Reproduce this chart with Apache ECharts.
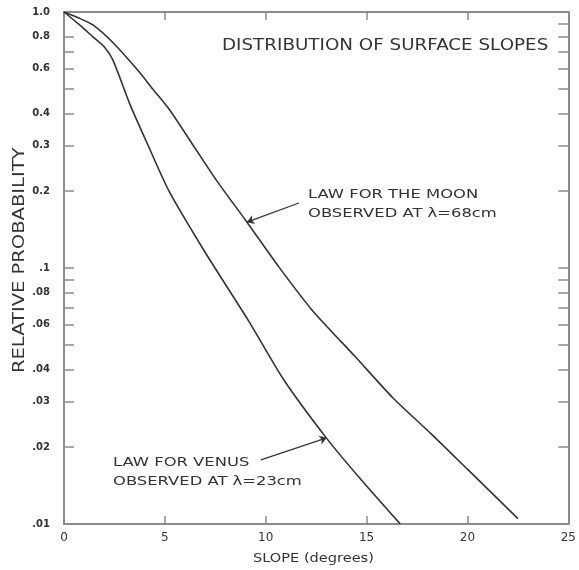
<!DOCTYPE html>
<html>
<head>
<meta charset="utf-8">
<script src="https://cdn.jsdelivr.net/npm/echarts@6/dist/echarts.min.js"></script>
<style>
  html, body { margin: 0; padding: 0; background: #fff; }
  #main { width: 579px; height: 570px; }
</style>
</head>
<body>
<div id="main"></div>
<script>
// 数据：斜率(度) 与 相对概率
var moonSlope = [0, 0.7, 1.43, 2.42, 3.65, 4.4, 5.23, 6.36, 7.54, 9.07, 10.65, 12.29, 14.43, 16.32, 18.2, 20.02, 22.5];
var moonProb  = [1.0, 0.95, 0.89, 0.76, 0.593, 0.5, 0.415, 0.305, 0.221, 0.151, 0.101, 0.0686, 0.0451, 0.031, 0.0225, 0.0163, 0.0105];

var venusSlope = [0, 0.7, 1.43, 2.0, 2.42, 3.3, 4.1, 5.2, 7.0, 9.12, 10.9, 13.0, 14.6, 16.67];
var venusProb  = [1.0, 0.9, 0.8, 0.73, 0.65, 0.43, 0.31, 0.2, 0.115, 0.0627, 0.0365, 0.0217, 0.0153, 0.01];

var xTicks = [0, 5, 10, 15, 20, 25];
var yLabelValues = [1.0, 0.8, 0.6, 0.4, 0.3, 0.2, 0.1, 0.08, 0.06, 0.04, 0.03, 0.02, 0.01];
var yLabelTexts  = ['1.0', '0.8', '0.6', '0.4', '0.3', '0.2', '.1', '.08', '.06', '.04', '.03', '.02', '.01'];
var yTickLeft  = [0.8, 0.7, 0.6, 0.5, 0.4, 0.3, 0.2, 0.1, 0.09, 0.08, 0.07, 0.06, 0.05, 0.04, 0.03, 0.02];
var yTickRight = [0.9, 0.8, 0.7, 0.6, 0.5, 0.4, 0.3, 0.2, 0.1, 0.09, 0.08, 0.07, 0.06, 0.05, 0.04, 0.03, 0.02];

// 箭头 [起点, 终点]
var moonArrow  = [[11.64, 0.1795], [9.07, 0.151]];
var venusArrow = [[9.76, 0.0178], [13.02, 0.0217]];

function pairs(xs, ys) {
    var out = [];
    for (var i = 0; i < xs.length; i++) out.push([xs[i], ys[i]]);
    return out;
}

var chart = echarts.init(document.getElementById('main'));

var frame = '#8c8c8c';
var ink = '#333';
var sans = '"DejaVu Sans"';

var option = {
    backgroundColor: '#fff',
    animation: false,
    grid: { left: 64, right: 7, top: 12, bottom: 46 },
    xAxis: [{
        type: 'value', position: 'bottom', min: 0, max: 25, interval: 5,
        axisLine: { onZero: false, lineStyle: { color: frame, width: 2 } },
        axisTick: { inside: true, length: 8, customValues: [5, 10, 15, 20], lineStyle: { color: frame, width: 1.5 } },
        axisLabel: { customValues: xTicks, color: ink, fontSize: 12, fontFamily: 'DejaVu Sans', margin: 8 },
        splitLine: { show: false }
    }, {
        type: 'value', position: 'top', min: 0, max: 25, interval: 5,
        axisLine: { onZero: false, lineStyle: { color: frame, width: 2 } },
        axisTick: { inside: true, length: 8, customValues: [5, 10, 15, 20], lineStyle: { color: frame, width: 1.5 } },
        axisLabel: { show: false },
        splitLine: { show: false }
    }],
    yAxis: [{
        type: 'log', logBase: 10, min: 0.01, max: 1, position: 'left',
        axisLine: { show: true, onZero: false, lineStyle: { color: frame, width: 2 } },
        axisTick: { show: true, inside: true, length: 10, customValues: yTickLeft, lineStyle: { color: frame, width: 1.5 } },
        axisLabel: {
            customValues: yLabelValues, color: ink, fontSize: 10, fontWeight: 'bold', fontFamily: 'DejaVu Sans', margin: 14,
            formatter: function (v) {
                for (var i = 0; i < yLabelValues.length; i++) {
                    if (Math.abs(yLabelValues[i] - v) < 1e-6) return yLabelTexts[i];
                }
                return '';
            }
        },
        splitLine: { show: false }
    }, {
        type: 'log', logBase: 10, min: 0.01, max: 1, position: 'right',
        axisLine: { show: true, onZero: false, lineStyle: { color: frame, width: 2 } },
        axisTick: { show: true, inside: true, length: 10, customValues: yTickRight, lineStyle: { color: frame, width: 1.5 } },
        axisLabel: { show: false },
        splitLine: { show: false }
    }],
    series: [{
        name: 'Moon', type: 'line', smooth: 0.25, symbol: 'none',
        data: pairs(moonSlope, moonProb),
        lineStyle: { color: ink, width: 1.6 },
        markLine: {
            silent: true, symbolSize: 7,
            lineStyle: { color: ink, width: 1.2, type: 'solid' },
            label: { show: false },
            data: [[{ coord: moonArrow[0], symbol: 'none' }, { coord: moonArrow[1], symbol: 'arrow' }]]
        }
    }, {
        name: 'Venus', type: 'line', smooth: 0.25, symbol: 'none',
        data: pairs(venusSlope, venusProb),
        lineStyle: { color: ink, width: 1.6 },
        markLine: {
            silent: true, symbolSize: 7,
            lineStyle: { color: ink, width: 1.2, type: 'solid' },
            label: { show: false },
            data: [[{ coord: venusArrow[0], symbol: 'none' }, { coord: venusArrow[1], symbol: 'arrow' }]]
        }
    }],
    graphic: [
        { type: 'text', x: 222, y: 39, scaleX: 1.22, style: { text: 'DISTRIBUTION OF SURFACE SLOPES', fill: ink, font: '15px ' + sans } },
        { type: 'text', x: 308, y: 185, scaleX: 1.26, style: { text: 'LAW FOR THE MOON\nOBSERVED AT λ=68cm', fill: ink, font: '13px ' + sans, lineHeight: 19 } },
        { type: 'text', x: 113, y: 453, scaleX: 1.26, style: { text: 'LAW FOR VENUS\nOBSERVED AT λ=23cm', fill: ink, font: '13px ' + sans, lineHeight: 19 } },
        { type: 'text', x: 13, y: 373, rotation: Math.PI / 2, scaleX: 1.3, style: { text: 'RELATIVE PROBABILITY', fill: ink, font: '15px ' + sans } },
        { type: 'text', x: 253, y: 552, scaleX: 1.12, style: { text: 'SLOPE (degrees)', fill: ink, font: '13px ' + sans } }
    ]
};

chart.setOption(option);
</script>
</body>
</html>
